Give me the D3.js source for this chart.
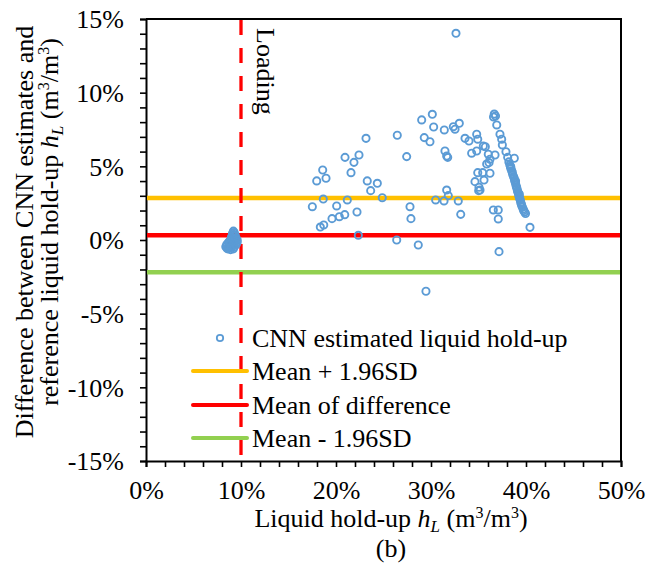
<!DOCTYPE html>
<html>
<head>
<meta charset="utf-8">
<script src="https://cdn.jsdelivr.net/npm/d3@7/dist/d3.min.js"></script>
<style>
  body { margin: 0; background: #fff; }
  svg text { font-family: "Liberation Serif", "Times New Roman", serif; fill: #000; }
</style>
</head>
<body>
<div id="chart"></div>
<script>
// liquid hold-up (x, %) and CNN - reference difference (y, %)
let holdUp = [
  // cluster at loading ~9%
  9.2, 9.3, 9.1, 9.25, 9.4, 9.0, 9.3, 9.5, 9.6, 8.9, 9.1, 9.4, 8.7, 9.0, 9.3, 8.5, 8.8, 9.1, 9.5, 8.4,
  8.7, 9.0, 9.3, 8.6, 8.9, 9.2, 8.5, 9.6, 8.8,
  // scattered
  23.16, 20.95, 22.42, 21.89, 18.60, 17.97, 18.95, 21.58, 23.29, 24.35, 23.65, 18.66, 21.19, 24.87,
  17.51, 20.07, 22.21, 20.92, 20.35, 19.58, 18.71, 18.35, 22.35,
  26.45, 27.44, 29.02, 30.14, 30.28, 29.29, 29.89, 31.40, 32.35, 32.53, 32.98, 31.47, 31.65, 31.76,
  33.58, 34.00, 34.81, 34.92, 34.28, 34.81, 35.51, 35.72, 36.03, 36.74, 36.21, 35.86, 36.11, 34.92,
  35.44, 36.21, 34.63, 35.58, 35.05, 35.16, 35.02, 31.65, 31.82, 30.49, 31.37, 32.87, 33.13, 27.79,
  27.89, 26.39, 28.66, 36.56, 37.08, 37.08, 37.16, 29.47, 32.63,
  // steep band
  36.66, 36.79, 36.58, 36.92, 37.26, 37.44, 37.51, 37.89, 38.07, 38.77,
  38.2, 38.3, 38.35, 38.4, 38.5, 38.55, 38.6, 38.7, 38.75, 38.8, 38.85, 38.9, 38.95, 39.0, 39.05,
  39.1, 39.15, 39.2, 39.25, 39.3, 39.35, 39.4, 39.45, 39.5, 39.55, 39.6, 39.7, 39.75, 39.85, 39.95,
  38.4, 38.9, 39.3, 40.42
];
let difference = [
  0.6, 0.5, 0.45, 0.35, 0.3, 0.2, 0.15, 0.1, 0.0, 0.0, -0.05, -0.1, -0.15, -0.2, -0.2, -0.3, -0.3, -0.35, -0.3, -0.45,
  -0.5, -0.5, -0.45, -0.6, -0.65, -0.6, -0.55, -0.15, -0.1,
  6.90, 5.61, 5.77, 5.27, 4.75, 4.01, 4.19, 4.57, 4.01, 3.85, 3.35, 2.78, 2.72, 2.87,
  2.26, 2.31, 1.90, 1.72, 1.58, 1.45, 1.02, 0.88, 0.32,
  7.11, 5.66, 8.15, 8.53, 7.67, 6.95, 6.67, 7.47, 7.69, 7.52, 7.92, 6.04, 5.70, 5.61,
  6.90, 6.72, 7.18, 6.84, 5.89, 6.04, 6.38, 6.33, 5.82, 5.77, 5.48, 5.16, 5.25, 4.57,
  4.57, 4.53, 3.96, 4.07, 3.58, 3.39, 3.35, 3.39, 3.01, 2.72, 2.65, 2.65, 1.74, 2.26,
  1.45, 0.0, -0.34, 2.04, 2.04, 1.43, -0.79, -3.48, 14.03,
  8.55, 8.42, 8.35, 7.81, 7.18, 6.84, 6.45, 5.99, 5.61, 5.55,
  5.3, 5.1, 5.0, 4.85, 4.7, 4.6, 4.45, 4.3, 4.2, 4.05, 3.95, 3.85, 3.7, 3.6, 3.5,
  3.35, 3.25, 3.15, 3.0, 2.9, 2.8, 2.7, 2.55, 2.45, 2.35, 2.25, 2.1, 2.0, 1.9, 1.8,
  4.95, 4.0, 3.1, 0.86
];

let meanDiff = 0.33;
let upperLimit = 2.85;
let lowerLimit = -2.19;
let loadingPoint = 10;

let xTicks = [0, 10, 20, 30, 40, 50];
let yTicks = [-15, -10, -5, 0, 5, 10, 15];

let legendLabels = ["CNN estimated liquid hold-up", "Mean + 1.96SD", "Mean of difference", "Mean - 1.96SD"];

const W = 659, H = 569;
const margin = {top: 19, right: 38, bottom: 108, left: 146};
const width = W - margin.left - margin.right;
const height = H - margin.top - margin.bottom;

const blue = "#5B9BD5", yellow = "#FFC000", red = "#FF0000", green = "#92D050";
const serif = "Liberation Serif";

const svg = d3.select("#chart").append("svg")
    .attr("width", W)
    .attr("height", H)
    .attr("font-family", serif);

const g = svg.append("g")
    .attr("transform", `translate(${margin.left},${margin.top})`);

const x = d3.scaleLinear().domain([0, 50]).range([0, width]);
const y = d3.scaleLinear().domain([-15, 15]).range([height, 0]);

// y axis: minor ticks every 1%
const yAxis = g.append("g")
    .call(d3.axisLeft(y).tickValues(d3.range(-15, 16, 1)).tickSize(6).tickPadding(16)
        .tickFormat(d => yTicks.includes(d) ? d + "%" : ""));
yAxis.attr("font-family", serif);
yAxis.select(".domain").attr("stroke-width", 2);
yAxis.selectAll(".tick line").attr("stroke-width", 1.6);
yAxis.selectAll("text").attr("font-size", 26).attr("dy", "0.34em");

// x axis: minor ticks every 2%
const xAxis = g.append("g")
    .attr("transform", `translate(0,${height})`)
    .call(d3.axisBottom(x).tickValues(d3.range(0, 51, 2)).tickSize(6).tickPadding(14)
        .tickFormat(d => xTicks.includes(d) ? d + "%" : ""));
xAxis.attr("font-family", serif);
xAxis.select(".domain").attr("stroke-width", 2);
xAxis.selectAll(".tick line").attr("stroke-width", 1.6);
xAxis.selectAll("text").attr("font-size", 26);

// top and right frame
g.append("path")
    .attr("d", `M0,0H${width}V${height}`)
    .attr("fill", "none")
    .attr("stroke", "#000")
    .attr("stroke-width", 2);

// reference lines
const hLines = [
    {v: upperLimit, c: yellow},
    {v: meanDiff, c: red},
    {v: lowerLimit, c: green}
];
g.selectAll(".hline")
    .data(hLines).enter()
    .append("line")
    .attr("class", "hline")
    .attr("x1", 1).attr("x2", width - 1)
    .attr("y1", d => y(d.v)).attr("y2", d => y(d.v))
    .attr("stroke", d => d.c)
    .attr("stroke-width", 4.5);

// loading line
g.append("line")
    .attr("x1", x(loadingPoint)).attr("x2", x(loadingPoint))
    .attr("y1", 1).attr("y2", height)
    .attr("stroke", red)
    .attr("stroke-width", 3.3)
    .attr("stroke-dasharray", "15,13");

g.append("text")
    .attr("transform", `translate(${x(loadingPoint) + 16},${9}) rotate(90)`)
    .attr("font-size", 26)
    .text("Loading");

// points
g.selectAll("circle.pt")
    .data(holdUp.map((h, i) => [h, difference[i]]))
    .enter().append("circle")
    .attr("class", "pt")
    .attr("cx", d => x(d[0]))
    .attr("cy", d => y(d[1]))
    .attr("r", 3.6)
    .attr("fill", "none")
    .attr("stroke", blue)
    .attr("stroke-width", 1.9);

// legend
const leg = svg.append("g");
const legY = [342, 375, 409, 442];
leg.append("circle")
    .attr("cx", 220).attr("cy", legY[0] - 4)
    .attr("r", 3.2)
    .attr("fill", "none").attr("stroke", blue).attr("stroke-width", 1.8);
[yellow, red, green].forEach((c, i) => {
    leg.append("line")
        .attr("x1", 193).attr("x2", 247)
        .attr("y1", legY[i + 1] - 4).attr("y2", legY[i + 1] - 4)
        .attr("stroke", c).attr("stroke-width", 4)
        .attr("stroke-linecap", "round");
});
leg.selectAll("text")
    .data(legendLabels).enter()
    .append("text")
    .attr("x", 252)
    .attr("y", (d, i) => legY[i] + 5)
    .attr("font-size", 26)
    .text(d => d);

// x title
const xt = svg.append("text")
    .attr("x", 391).attr("y", 527)
    .attr("text-anchor", "middle")
    .attr("font-size", 26);
xt.append("tspan").text("Liquid hold-up ");
xt.append("tspan").attr("font-style", "italic").text("h");
xt.append("tspan").attr("font-style", "italic").attr("font-size", 17).attr("dy", 5).text("L");
xt.append("tspan").attr("dy", -5).text(" (m");
xt.append("tspan").attr("font-size", 16).attr("dy", -9).text("3");
xt.append("tspan").attr("dy", 9).text("/m");
xt.append("tspan").attr("font-size", 16).attr("dy", -9).text("3");
xt.append("tspan").attr("dy", 9).text(")");

svg.append("text")
    .attr("x", 391).attr("y", 557)
    .attr("text-anchor", "middle")
    .attr("font-size", 26)
    .text("(b)");

// y title, two lines
svg.append("text")
    .attr("transform", "translate(33,232) rotate(-90)")
    .attr("text-anchor", "middle")
    .attr("font-size", 26)
    .text("Difference between CNN estimates and");

const yt = svg.append("text")
    .attr("transform", "translate(58,222) rotate(-90)")
    .attr("text-anchor", "middle")
    .attr("font-size", 26);
yt.append("tspan").text("reference liquid hold-up ");
yt.append("tspan").attr("font-style", "italic").text("h");
yt.append("tspan").attr("font-style", "italic").attr("font-size", 17).attr("dy", 5).text("L");
yt.append("tspan").attr("dy", -5).text(" (m");
yt.append("tspan").attr("font-size", 16).attr("dy", -9).text("3");
yt.append("tspan").attr("dy", 9).text("/m");
yt.append("tspan").attr("font-size", 16).attr("dy", -9).text("3");
yt.append("tspan").attr("dy", 9).text(")");
</script>
</body>
</html>
